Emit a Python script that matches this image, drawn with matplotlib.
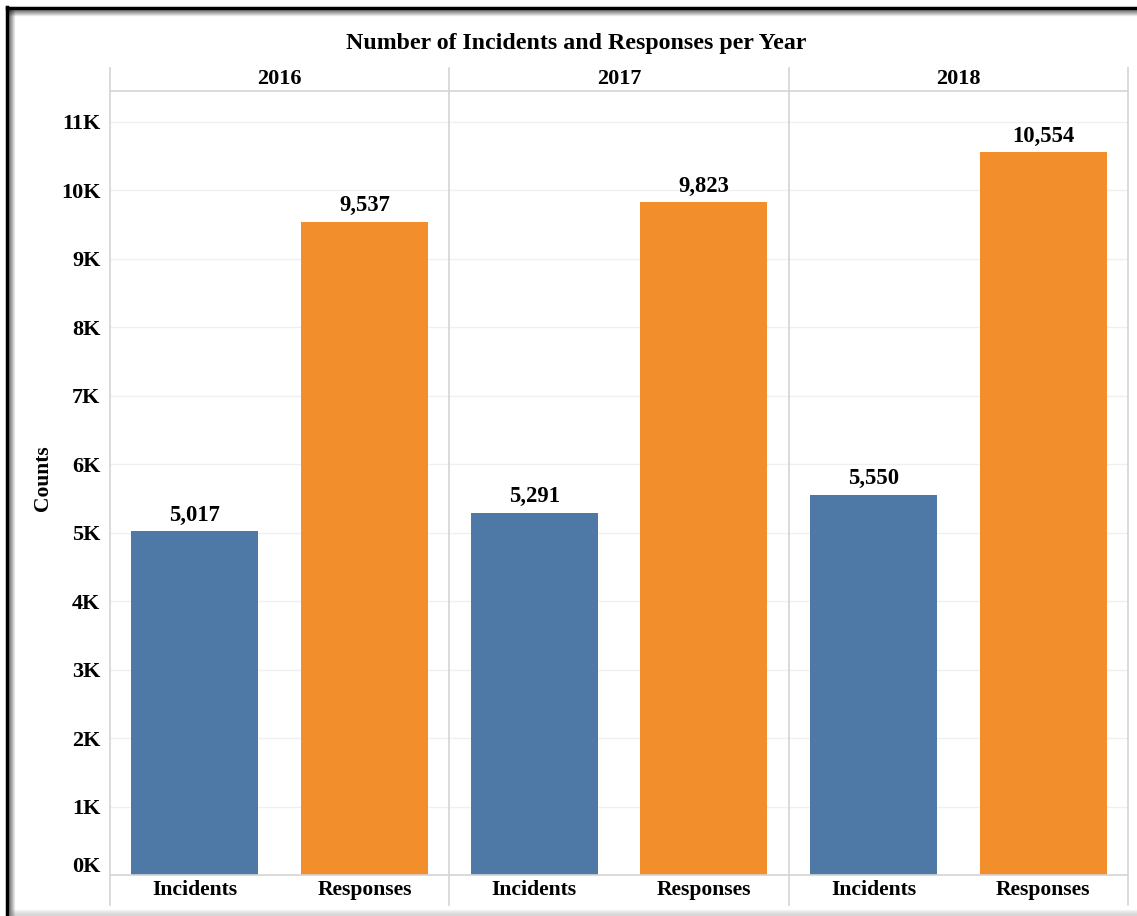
import matplotlib
matplotlib.use("Agg")
import numpy as np
import matplotlib.pyplot as plt
from matplotlib.lines import Line2D
from matplotlib.transforms import ScaledTranslation

years = ['2016', '2017', '2018']
measures = ['Incidents', 'Responses']
incidents = [5017, 5291, 5550]
responses = [9537, 9823, 10554]
yticks = [0, 1000, 2000, 3000, 4000, 5000, 6000, 7000, 8000, 9000, 10000, 11000]
ytick_labels = ['0K', '1K', '2K', '3K', '4K', '5K', '6K', '7K', '8K', '9K', '10K', '11K']

blue = '#4e79a7'
orange = '#f28e2c'
grid_c = '#f0f0f0'
line_c = '#d4d4d4'

plt.rcParams['font.family'] = ['Liberation Serif', 'DejaVu Serif']
plt.rcParams['font.weight'] = 'bold'

W, H = 1137, 916
fig = plt.figure(figsize=(W / 100, H / 100), dpi=100)

def fx(px):
    return px / W

def fy(py):
    return 1 - py / H

# plot area in pixels
x0, x1 = 110, 1128
y_top, y_zero = 91, 875
ax = fig.add_axes([fx(x0), fy(y_zero), fx(x1) - fx(x0), fy(y_top) - fy(y_zero)])

# three year panels, two bars each
xs_inc = np.arange(len(years)) * 2 + 0.5
xs_res = np.arange(len(years)) * 2 + 1.5
ax.bar(xs_inc, incidents, width=0.75, color=blue, zorder=3)
ax.bar(xs_res, responses, width=0.75, color=orange, zorder=3)

for x, v in list(zip(xs_inc, incidents)) + list(zip(xs_res, responses)):
    ax.annotate(f'{v:,}', (x, v), xytext=(0, 4), textcoords='offset points',
                ha='center', va='bottom', fontsize=16.3, fontweight='bold')

ax.set_xlim(0, 2 * len(years))
ax.set_ylim(0, 11450)
ax.set_yticks(yticks)
ax.set_yticklabels(ytick_labels, fontsize=16, fontweight='bold')
ax.tick_params(axis='y', length=0, pad=7)
ax.set_xticks([])
ax.grid(axis='y', color=grid_c, linewidth=1, zorder=0)
for s in ax.spines.values():
    s.set_visible(False)

# lift the bottom tick label so it clears the baseline
lab0 = ax.get_yticklabels()[0]
lab0.set_transform(lab0.get_transform() + ScaledTranslation(0, 0.11, fig.dpi_scale_trans))

# panel frame lines
panel_w = (x1 - x0) / len(years)
for i in range(len(years) + 1):
    px = x0 + i * panel_w
    fig.add_artist(Line2D([fx(px), fx(px)], [fy(68), fy(905)], color=line_c, lw=1.2))
fig.add_artist(Line2D([fx(x0), fx(x1)], [fy(y_top), fy(y_top)], color=line_c, lw=1.2))
fig.add_artist(Line2D([fx(x0), fx(x1)], [fy(y_zero), fy(y_zero)], color=line_c, lw=1.2))

# year headers and measure labels
for i, yr in enumerate(years):
    cx = x0 + (i + 0.5) * panel_w
    fig.text(fx(cx), fy(79), yr, ha='center', va='center', fontsize=16, fontweight='bold')
    for j, m in enumerate(measures):
        mx = x0 + i * panel_w + (0.25 + 0.5 * j) * panel_w
        fig.text(fx(mx), fy(890), m, ha='center', va='center', fontsize=15.6, fontweight='bold')

fig.text(fx(576), fy(44), 'Number of Incidents and Responses per Year', ha='center', va='center',
         fontsize=17.2, fontweight='bold')
fig.text(fx(43), fy(478), 'Counts', rotation=90, ha='center', va='center',
         fontsize=15.5, fontweight='bold')

# outer frame with soft inner shadow
fig.add_artist(Line2D([fx(7), fx(7)], [fy(7), fy(916)], color='black', lw=2.5))
fig.add_artist(Line2D([fx(7), fx(1137)], [fy(8), fy(8)], color='black', lw=2.5))
for k in range(1, 7):
    a = 0.5 * (1 - k / 7)
    fig.add_artist(Line2D([fx(8 + k), fx(8 + k)], [fy(9), fy(916)], color='black', lw=1, alpha=a))
    fig.add_artist(Line2D([fx(9), fx(1137)], [fy(9 + k), fy(9 + k)], color='black', lw=1, alpha=a))
for k in range(6):
    a = 0.08 + 0.04 * k
    fig.add_artist(Line2D([fx(9), fx(1137)], [fy(910 + k), fy(910 + k)], color='gray', lw=1, alpha=a))

fig.savefig('out.png', dpi=100, facecolor='white')
